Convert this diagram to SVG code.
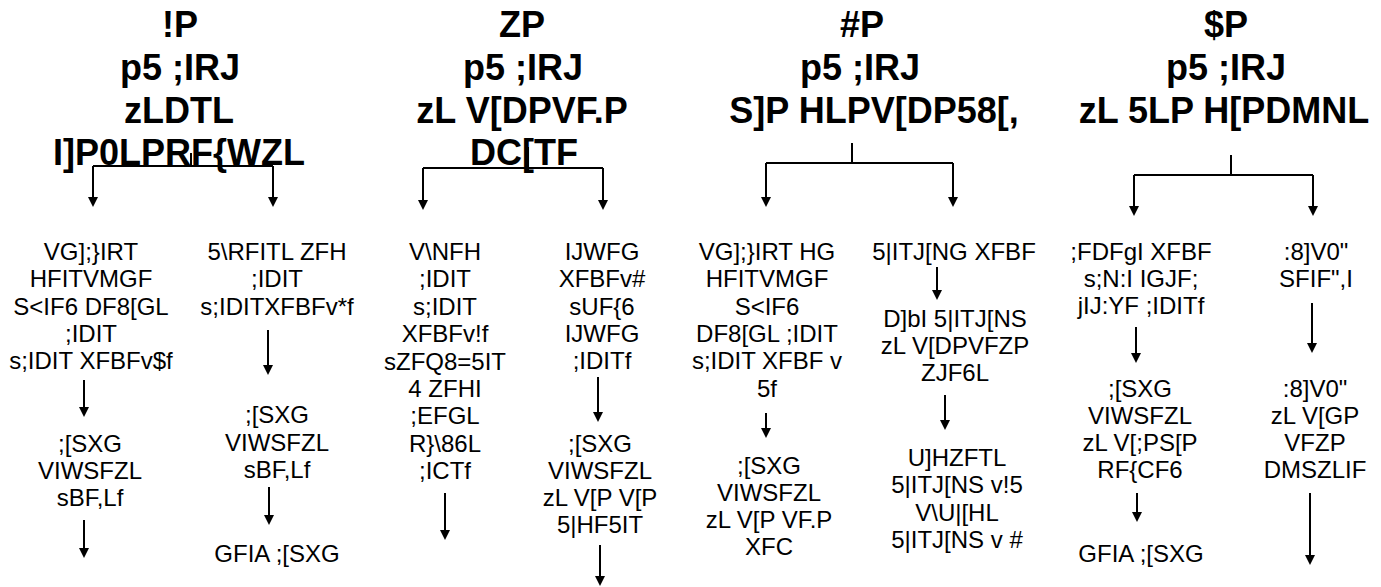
<svg xmlns="http://www.w3.org/2000/svg" width="1381" height="587" viewBox="0 0 1381 587">
<defs>
<style>
.t{font-family:"Liberation Sans",Arial,sans-serif;font-size:36px;font-weight:bold;fill:#000;text-anchor:middle}
.n{font-family:"Liberation Sans",Arial,sans-serif;font-size:24px;fill:#000;text-anchor:middle}
.c line{stroke:#000;stroke-width:2}
.c line.a{marker-end:url(#ah)}
</style>
<marker id="ah" viewBox="0 0 10 10" refX="4" refY="5" markerWidth="10" markerHeight="10" markerUnits="userSpaceOnUse" orient="auto">
<path d="M0,0 L10,5 L0,10 z" fill="#000"/>
</marker>
</defs>
<rect width="1381" height="587" fill="#fff"/>

<g id="title1">
<text class="t" x="180" y="37">!P</text>
<text class="t" x="180" y="80">p5 ;IRJ</text>
<text class="t" x="179" y="123">zLDTL</text>
<text class="t" x="179" y="165">I]P0LPRF{WZL</text>
</g>
<g id="title2">
<text class="t" x="522" y="37">ZP</text>
<text class="t" x="523" y="80">p5 ;IRJ</text>
<text class="t" x="522" y="123">zL V[DPVF.P</text>
<text class="t" x="524" y="165">DC[TF</text>
</g>
<g id="title3">
<text class="t" x="862" y="37">#P</text>
<text class="t" x="860" y="80">p5 ;IRJ</text>
<text class="t" x="874" y="123">S]P HLPV[DP58[,</text>
</g>
<g id="title4">
<text class="t" x="1226" y="37">$P</text>
<text class="t" x="1226" y="80">p5 ;IRJ</text>
<text class="t" x="1224" y="123">zL 5LP H[PDMNL</text>
</g>

<g id="n1a">
<text class="n" x="91" y="260">VG];}IRT</text>
<text class="n" x="91" y="287">HFITVMGF</text>
<text class="n" x="91" y="314.5">S&lt;IF6 DF8[GL</text>
<text class="n" x="91" y="342">;IDIT</text>
<text class="n" x="91" y="369">s;IDIT XFBFv$f</text>
</g>
<g id="n1b">
<text class="n" x="90" y="452">;[SXG</text>
<text class="n" x="90" y="479">VIWSFZL</text>
<text class="n" x="90" y="506">sBF,Lf</text>
</g>
<g id="n1c">
<text class="n" x="277" y="260">5\RFITL ZFH</text>
<text class="n" x="277" y="287">;IDIT</text>
<text class="n" x="277" y="314.5">s;IDITXFBFv*f</text>
</g>
<g id="n1d">
<text class="n" x="277" y="423">;[SXG</text>
<text class="n" x="277" y="451">VIWSFZL</text>
<text class="n" x="277" y="478">sBF,Lf</text>
</g>
<g id="n1e">
<text class="n" x="277" y="562">GFIA ;[SXG</text>
</g>

<g id="n2a">
<text class="n" x="445" y="260">V\NFH</text>
<text class="n" x="445" y="287">;IDIT</text>
<text class="n" x="445" y="315">s;IDIT</text>
<text class="n" x="445" y="342">XFBFv!f</text>
<text class="n" x="445" y="370">sZFQ8=5IT</text>
<text class="n" x="445" y="397">4 ZFHI</text>
<text class="n" x="445" y="424">;EFGL</text>
<text class="n" x="445" y="452">R}\86L</text>
<text class="n" x="445" y="479">;ICTf</text>
</g>
<g id="n2b">
<text class="n" x="602" y="260">IJWFG</text>
<text class="n" x="602" y="287">XFBFv#</text>
<text class="n" x="602" y="315">sUF{6</text>
<text class="n" x="602" y="342">IJWFG</text>
<text class="n" x="602" y="369">;IDITf</text>
</g>
<g id="n2c">
<text class="n" x="600" y="452">;[SXG</text>
<text class="n" x="600" y="479">VIWSFZL</text>
<text class="n" x="600" y="506">zL V[P V[P</text>
<text class="n" x="600" y="533">5|HF5IT</text>
</g>

<g id="n3a">
<text class="n" x="767" y="260">VG];}IRT HG</text>
<text class="n" x="767" y="287">HFITVMGF</text>
<text class="n" x="767" y="315">S&lt;IF6</text>
<text class="n" x="767" y="342">DF8[GL ;IDIT</text>
<text class="n" x="767" y="369">s;IDIT XFBF v</text>
<text class="n" x="767" y="397">5f</text>
</g>
<g id="n3b">
<text class="n" x="769" y="474">;[SXG</text>
<text class="n" x="769" y="501">VIWSFZL</text>
<text class="n" x="769" y="528">zL V[P VF.P</text>
<text class="n" x="769" y="555">XFC</text>
</g>
<g id="n3c">
<text class="n" x="954" y="260">5|ITJ[NG XFBF</text>
</g>
<g id="n3d">
<text class="n" x="955" y="327">D]bI 5|ITJ[NS</text>
<text class="n" x="955" y="354">zL V[DPVFZP</text>
<text class="n" x="955" y="381">ZJF6L</text>
</g>
<g id="n3e">
<text class="n" x="957" y="466">U]HZFTL</text>
<text class="n" x="957" y="493">5|ITJ[NS v!5</text>
<text class="n" x="957" y="521">V\U|[HL</text>
<text class="n" x="957" y="548">5|ITJ[NS v #</text>
</g>

<g id="n4a">
<text class="n" x="1141" y="260">;FDFgI XFBF</text>
<text class="n" x="1141" y="287">s;N:I IGJF;</text>
<text class="n" x="1141" y="314">jIJ:YF ;IDITf</text>
</g>
<g id="n4b">
<text class="n" x="1140" y="397">;[SXG</text>
<text class="n" x="1140" y="424">VIWSFZL</text>
<text class="n" x="1140" y="451">zL V[;PS[P</text>
<text class="n" x="1140" y="478">RF{CF6</text>
</g>
<g id="n4c">
<text class="n" x="1141" y="562">GFIA ;[SXG</text>
</g>
<g id="n4d">
<text class="n" x="1316" y="260">:8]V0"</text>
<text class="n" x="1316" y="287">SFIF",I</text>
</g>
<g id="n4e">
<text class="n" x="1315" y="397">:8]V0"</text>
<text class="n" x="1315" y="424">zL V[GP</text>
<text class="n" x="1315" y="451">VFZP</text>
<text class="n" x="1315" y="478">DMSZLIF</text>
</g>

<g id="connectors" class="c">
<line x1="93" y1="166" x2="273" y2="166"/>
<line x1="191" y1="153" x2="191" y2="166"/>
<line class="a" x1="93" y1="166" x2="93" y2="201"/>
<line class="a" x1="273" y1="166" x2="273" y2="201"/>
<line class="a" x1="84" y1="380" x2="84" y2="411"/>
<line class="a" x1="84" y1="520" x2="84" y2="552"/>
<line class="a" x1="268" y1="330" x2="268" y2="369"/>
<line class="a" x1="269" y1="487" x2="269" y2="519"/>

<line x1="423" y1="168" x2="603" y2="168"/>
<line x1="528" y1="147" x2="528" y2="172"/>
<line class="a" x1="423" y1="168" x2="423" y2="204"/>
<line class="a" x1="603" y1="168" x2="603" y2="204"/>
<line class="a" x1="445" y1="493" x2="445" y2="534"/>
<line class="a" x1="598" y1="377" x2="598" y2="416"/>
<line class="a" x1="600" y1="545" x2="600" y2="580"/>

<line x1="766" y1="163" x2="953" y2="163"/>
<line x1="852" y1="143" x2="852" y2="163"/>
<line class="a" x1="766" y1="163" x2="766" y2="201"/>
<line class="a" x1="953" y1="163" x2="953" y2="201"/>
<line class="a" x1="766" y1="413" x2="766" y2="432"/>
<line class="a" x1="937" y1="267" x2="937" y2="294"/>
<line class="a" x1="945" y1="395" x2="945" y2="424"/>

<line x1="1134" y1="175" x2="1313" y2="175"/>
<line x1="1231" y1="155" x2="1231" y2="175"/>
<line class="a" x1="1134" y1="175" x2="1134" y2="210"/>
<line class="a" x1="1313" y1="175" x2="1313" y2="210"/>
<line class="a" x1="1136" y1="327" x2="1136" y2="357"/>
<line class="a" x1="1137" y1="493" x2="1137" y2="516"/>
<line class="a" x1="1312" y1="303" x2="1312" y2="347"/>
<line class="a" x1="1310" y1="493" x2="1310" y2="559"/>
</g>
</svg>
